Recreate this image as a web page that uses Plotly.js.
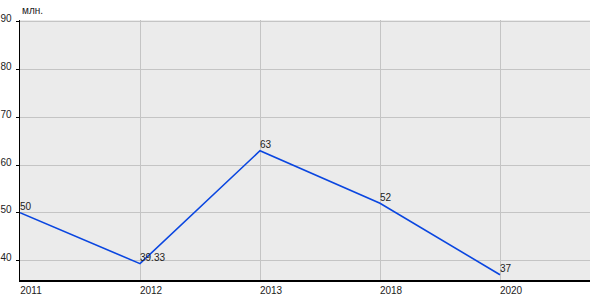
<!DOCTYPE html>
<html><head><meta charset="utf-8">
<script src="https://cdn.plot.ly/plotly-3.0.1.min.js"></script>
<style>html,body{margin:0;padding:0;background:#fff}#c{width:600px;height:300px}</style>
</head><body><div id="c"></div>
<script>
var years = ['2011', '2012', '2013', '2018', '2020'];
var values = [50, 39.33, 63, 52, 37];
var valueLabels = ['50', '39.33', '63', '52', '37'];
var yTicks = [40, 50, 60, 70, 80, 90];
var unitLabel = 'млн.';

var trace = {
  x: years, y: values, type: 'scatter', mode: 'lines+text',
  text: valueLabels, textposition: 'top right',
  textfont: {family: 'Liberation Sans, Arial, sans-serif', size: 10, color: '#222'},
  line: {color: '#0a46e0', width: 1.6},
  cliponaxis: false, hoverinfo: 'none'
};
var layout = {
  width: 600, height: 300,
  margin: {l: 20, r: 10, t: 20, b: 20},
  paper_bgcolor: '#ffffff', plot_bgcolor: '#ebebeb',
  showlegend: false,
  font: {family: 'Liberation Sans, Arial, sans-serif', size: 10, color: '#222'},
  xaxis: {
    type: 'category', range: [0, 4.75],
    showgrid: true, gridcolor: '#c4c4c4', gridwidth: 1,
    showline: true, linecolor: '#000', linewidth: 1.5,
    ticks: '', ticklabelshift: 11, ticklabelstandoff: 0,
    tickfont: {size: 10, color: '#222'}, zeroline: false, fixedrange: true
  },
  yaxis: {
    range: [35.9, 90.4], tickvals: yTicks,
    showgrid: true, gridcolor: '#c4c4c4', gridwidth: 1,
    showline: true, linecolor: '#000', linewidth: 1.5,
    ticks: 'outside', ticklen: 3, tickcolor: '#000',
    ticklabelshift: -3, ticklabelstandoff: 2,
    tickfont: {size: 10, color: '#222'}, zeroline: false, fixedrange: true
  },
  annotations: [{
    text: unitLabel, xref: 'paper', yref: 'paper', x: 0, y: 1,
    xanchor: 'left', yanchor: 'bottom', yshift: 2, showarrow: false,
    font: {size: 10, color: '#222'}
  }]
};
Plotly.newPlot('c', [trace], layout, {staticPlot: true, displayModeBar: false});
</script></body></html>
